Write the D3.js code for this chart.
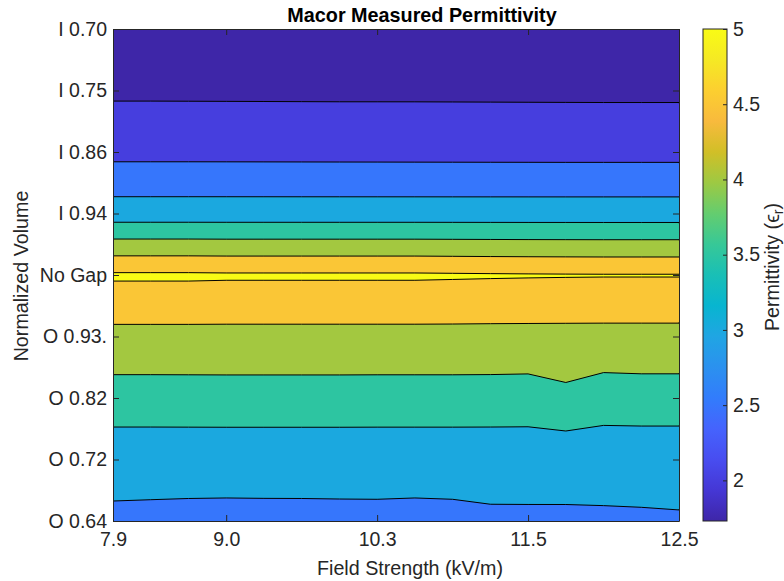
<!DOCTYPE html>
<html>
<head>
<meta charset="utf-8">
<script src="https://cdn.jsdelivr.net/npm/d3@7"></script>
<style>
body { margin: 0; background: #fff; }
text { font-family: "Liberation Sans", Arial, Helvetica, sans-serif; }
</style>
</head>
<body>
<svg id="chart" width="784" height="581"></svg>
<script>
// field strength tick labels, placed at sample columns (1-based)
var xTickIdx = [1, 4, 8, 12, 16];
var xLabels = ["7.9", "9.0", "10.3", "11.5", "12.5"];
var rowLabels = ["I 0.70", "I 0.75", "I 0.86", "I 0.94", "No Gap", "O 0.93.", "O 0.82", "O 0.72", "O 0.64"];
var levels = [2, 2.5, 3, 3.5, 4, 4.5, 5];
var cbTicks = [2, 2.5, 3, 3.5, 4, 4.5, 5];

// measured permittivity, one row per normalized volume, 16 field strength columns
var rowI070 = [1.74, 1.73, 1.73, 1.74, 1.73, 1.73, 1.74, 1.73, 1.73, 1.74, 1.73, 1.73, 1.74, 1.73, 1.73, 1.74];
var rowI075 = [1.925, 1.925, 1.924, 1.923, 1.922, 1.921, 1.92, 1.92, 1.92, 1.919, 1.918, 1.917, 1.916, 1.915, 1.915, 1.915];
var rowI086 = [2.36, 2.36, 2.36, 2.359, 2.358, 2.357, 2.356, 2.355, 2.354, 2.353, 2.352, 2.351, 2.35, 2.35, 2.35, 2.35];
var rowI094 = [3.24, 3.24, 3.24, 3.24, 3.24, 3.24, 3.24, 3.24, 3.24, 3.24, 3.24, 3.24, 3.24, 3.24, 3.24, 3.24];
var rowNoGap = [5.07, 5.07, 5.07, 5.06, 5.06, 5.06, 5.06, 5.06, 5.06, 5.05, 5.04, 5.032, 5.026, 5.022, 5.022, 5.022];
var rowO093 = [4.36, 4.36, 4.36, 4.36, 4.36, 4.36, 4.36, 4.36, 4.36, 4.36, 4.358, 4.357, 4.356, 4.355, 4.355, 4.355];
var rowO082 = [3.78, 3.78, 3.782, 3.784, 3.784, 3.784, 3.784, 3.782, 3.782, 3.782, 3.78, 3.77, 3.88, 3.75, 3.77, 3.77];
var rowO072 = [3.187, 3.187, 3.187, 3.187, 3.187, 3.187, 3.187, 3.187, 3.187, 3.187, 3.187, 3.193, 3.172, 3.189, 3.178, 3.178];
var rowO064 = [2.91, 2.901, 2.892, 2.888, 2.891, 2.892, 2.896, 2.898, 2.888, 2.898, 2.93, 2.929, 2.937, 2.937, 2.949, 2.961];
var perm = [rowI070, rowI075, rowI086, rowI094, rowNoGap, rowO093, rowO082, rowO072, rowO064];

// parula colormap (every 4th entry of the 64 colour table)
var parula = [
	[0.2422, 0.1504, 0.6603], [0.2706, 0.2147, 0.8364], [0.2813, 0.3006, 0.9414], [0.2699, 0.3892, 0.9906],
	[0.1963, 0.4847, 0.9892], [0.1687, 0.5703, 0.9359], [0.1248, 0.6459, 0.8883], [0.0297, 0.7082, 0.8163],
	[0.0964, 0.7500, 0.7120], [0.2161, 0.7843, 0.5923], [0.3909, 0.8029, 0.4354], [0.6174, 0.7876, 0.2612],
	[0.8203, 0.7498, 0.1535], [0.9728, 0.7298, 0.2394], [0.9892, 0.8136, 0.1885], [0.9597, 0.9135, 0.1423],
	[0.9769, 0.9839, 0.0805]
];

var svg = d3.select("#chart");
// plot box (window.top is read-only, so no bare "top")
var plotL = 113, plotR = 679, plotT = 29, plotB = 521;
var cbLeft = 703, cbRight = 727;
var ink = "#262626";
var fs = 19.5;

var nx = perm[0].length, ny = perm.length;
var values = [].concat.apply([], perm);
var vmin = d3.min(values);
var cmin = 1.73, cmax = 5;

var x = d3.scaleLinear().domain([1, nx]).range([plotL, plotR]);
var y = d3.scaleLinear().domain([0, ny - 1]).range([plotT, plotB]);
var cScale = d3.scaleLinear().domain([cmin, cmax]).range([plotB, plotT]);

var parulaColor = d3.scaleLinear()
	.domain(parula.map(function(d, i){ return cmin + (cmax - cmin) * i / (parula.length - 1); }))
	.range(parula.map(function(c){ return d3.rgb(c[0] * 255, c[1] * 255, c[2] * 255); }))
	.interpolate(d3.interpolateRgb)
	.clamp(true);

// contour grid coords put sample i at i+0.5
var proj = d3.geoTransform({
	point: function(px, py){
		this.stream.point(x(px + 0.5), y(py - 0.5));
	}
});
var path = d3.geoPath(proj);

var thresholds = [vmin].concat(levels);
var bands = d3.contours().size([nx, ny]).thresholds(thresholds)(values);

svg.append("defs").append("clipPath").attr("id", "plotClip")
	.append("rect")
	.attr("x", plotL).attr("y", plotT)
	.attr("width", plotR - plotL).attr("height", plotB - plotT);

var plot = svg.append("g").attr("clip-path", "url(#plotClip)");

plot.selectAll("path.band")
	.data(bands)
	.enter().append("path")
	.attr("class", "band")
	.attr("d", path)
	.attr("fill", function(d){ return parulaColor(d.value); })
	.attr("stroke", "none");

plot.selectAll("path.line")
	.data(bands.filter(function(d){ return d.value > vmin; }))
	.enter().append("path")
	.attr("class", "line")
	.attr("d", path)
	.attr("fill", "none")
	.attr("stroke", "#000")
	.attr("stroke-width", 1);

function styleAxis(g){
	g.selectAll(".domain").attr("stroke", ink).attr("stroke-width", 1);
	g.selectAll(".tick line").attr("stroke", ink).attr("stroke-width", 1);
	g.selectAll(".tick text").attr("fill", ink).style("font-size", fs + "px")
		.style("font-family", "'Liberation Sans', Arial, Helvetica, sans-serif");
}

var rowIdx = d3.range(ny);

svg.append("g").attr("transform", "translate(" + plotL + ",0)")
	.call(d3.axisLeft(y).tickValues(rowIdx).tickFormat(function(d){ return rowLabels[d]; })
		.tickSizeInner(-6).tickSizeOuter(0).tickPadding(6))
	.call(styleAxis);

svg.append("g").attr("transform", "translate(" + plotR + ",0)")
	.call(d3.axisRight(y).tickValues(rowIdx).tickFormat("").tickSizeInner(-6).tickSizeOuter(0))
	.call(styleAxis);

svg.append("g").attr("transform", "translate(0," + plotB + ")")
	.call(d3.axisBottom(x).tickValues(xTickIdx).tickFormat(function(d, i){ return xLabels[i]; })
		.tickSizeInner(-6).tickSizeOuter(0).tickPadding(11))
	.call(styleAxis);

svg.append("g").attr("transform", "translate(0," + plotT + ")")
	.call(d3.axisTop(x).tickValues(xTickIdx).tickFormat("").tickSizeInner(-6).tickSizeOuter(0))
	.call(styleAxis);

// colorbar
var grad = svg.select("defs").append("linearGradient")
	.attr("id", "cbGrad")
	.attr("x1", 0).attr("y1", 1).attr("x2", 0).attr("y2", 0);
grad.selectAll("stop")
	.data(parula)
	.enter().append("stop")
	.attr("offset", function(d, i){ return i / (parula.length - 1); })
	.attr("stop-color", function(c){ return d3.rgb(c[0] * 255, c[1] * 255, c[2] * 255); });

svg.append("rect")
	.attr("x", cbLeft).attr("y", plotT)
	.attr("width", cbRight - cbLeft).attr("height", plotB - plotT)
	.attr("fill", "url(#cbGrad)")
	.attr("stroke", ink).attr("stroke-width", 1);

svg.append("g").attr("transform", "translate(" + cbRight + ",0)")
	.call(d3.axisRight(cScale).tickValues(cbTicks).tickFormat(function(d){ return String(d); })
		.tickSizeInner(-4).tickSizeOuter(0).tickPadding(6))
	.call(styleAxis)
	.select(".domain").remove();

// titles and labels
svg.append("text")
	.attr("x", 422).attr("y", 22)
	.attr("text-anchor", "middle")
	.style("font-size", "19.8px").style("font-weight", "bold")
	.attr("fill", "#000")
	.text("Macor Measured Permittivity");

svg.append("text")
	.attr("x", 410).attr("y", 575)
	.attr("text-anchor", "middle")
	.style("font-size", "19.7px")
	.attr("fill", ink)
	.text("Field Strength (kV/m)");

svg.append("text")
	.attr("transform", "translate(27.5,276) rotate(-90)")
	.attr("text-anchor", "middle")
	.style("font-size", "19.7px")
	.attr("fill", ink)
	.text("Normalized Volume");

var cbLabel = svg.append("text")
	.attr("transform", "translate(779,267) rotate(-90)")
	.attr("text-anchor", "middle")
	.style("font-size", "19.7px")
	.attr("fill", ink);
cbLabel.append("tspan").text("Permittivity (\u03F5");
cbLabel.append("tspan").attr("baseline-shift", "-25%").style("font-size", "14px").text("r");
cbLabel.append("tspan").text(")");
</script>
</body>
</html>
